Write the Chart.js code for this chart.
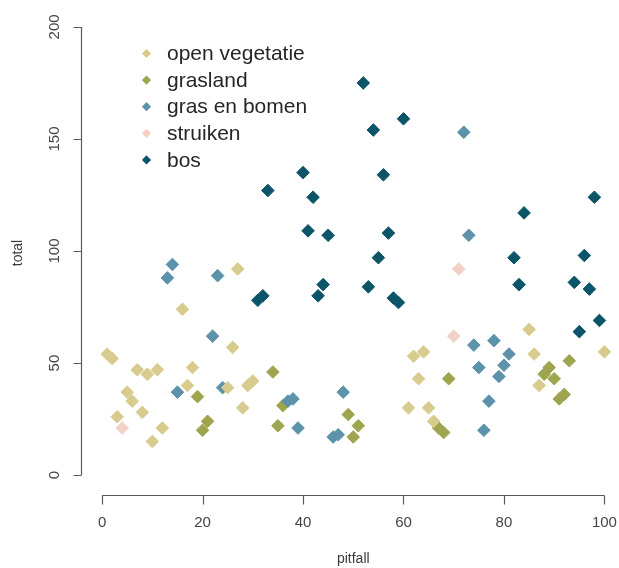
<!DOCTYPE html>
<html>
<head>
<meta charset="utf-8">
<script src="https://cdn.jsdelivr.net/npm/chart.js@4/dist/chart.umd.min.js"></script>
<style>
  html, body { margin: 0; padding: 0; background: #ffffff; overflow: hidden; }
  canvas { display: block; }
</style>
</head>
<body>
<canvas id="c" width="619" height="568" style="width:619px;height:568px"></canvas>
<script>
// Pitfall catches per vegetation type: x = pitfall number, y = total catch
const openVegX = [27, 16, 1, 2, 7, 9, 11, 18, 26, 17, 5, 6, 8, 3, 12, 10, 25, 29, 30, 28, 62, 64, 63, 61, 65, 66, 85, 86, 100, 87];
const openVegY = [92, 74, 54, 52, 47, 45, 47, 48, 57, 40, 37, 33, 28, 26, 21, 15, 39, 40, 42, 30, 53, 55, 43, 30, 30, 24, 65, 54, 55, 40];

const graslandX = [34, 19, 21, 20, 36, 35, 49, 51, 50, 69, 67, 68, 93, 89, 88, 90, 92, 91];
const graslandY = [46, 35, 24, 20, 31, 22, 27, 22, 17, 43, 21, 19, 51, 48, 45, 43, 36, 34];

const grasBomenX = [72, 73, 14, 13, 23, 22, 15, 24, 37, 38, 39, 48, 46, 47, 74, 78, 81, 75, 80, 79, 77, 76];
const grasBomenY = [153, 107, 94, 88, 89, 62, 37, 39, 33, 34, 21, 37, 17, 18, 58, 60, 54, 48, 49, 44, 33, 20];

const struikenX = [71, 70, 4];
const struikenY = [92, 62, 21];

const bosX = [52, 33, 54, 60, 40, 42, 41, 45, 56, 57, 55, 44, 43, 31, 32, 53, 58, 59, 84, 82, 83, 96, 94, 97, 98, 99, 95];
const bosY = [175, 127, 154, 159, 135, 124, 109, 107, 134, 108, 97, 85, 80, 78, 80, 84, 79, 77, 117, 97, 85, 98, 86, 83, 124, 69, 64];

const seriesNames = ['open vegetatie', 'grasland', 'gras en bomen', 'struiken', 'bos'];
const seriesColors = ['#d8cb8e', '#9ea54e', '#5c92aa', '#f3d0c6', '#0c5468'];

const xTicks = [0, 20, 40, 60, 80, 100];
const yTicks = [0, 50, 100, 150, 200];
const xTitle = 'pitfall';
const yTitle = 'total';

function pts(xs, ys) { return xs.map((v, i) => ({ x: v, y: ys[i] })); }

const seriesData = [
  pts(openVegX, openVegY),
  pts(graslandX, graslandY),
  pts(grasBomenX, grasBomenY),
  pts(struikenX, struikenY),
  pts(bosX, bosY)
];
// drawing order: lower number is painted on top
const drawOrder = [0, 2, 1, 3, 4];

const datasets = seriesNames.map((name, i) => ({
  label: name,
  data: seriesData[i],
  order: drawOrder[i],
  pointStyle: 'rectRot',
  pointRadius: 6.3,
  pointHoverRadius: 6.3,
  pointBorderWidth: 1,
  backgroundColor: seriesColors[i],
  borderColor: seriesColors[i],
  showLine: false
}));

const FONT = '"Liberation Sans", Arial, sans-serif';

// Base-graphics style axes (offset from the panel) and legend box
const rStyle = {
  id: 'rStyle',
  afterDatasetsDraw(chart) {
    const { ctx, chartArea, scales: { x, y } } = chart;
    ctx.save();
    ctx.strokeStyle = '#5a5a5a';
    ctx.lineWidth = 1.2;

    // x axis
    const xa = Math.round(chartArea.bottom + 2) + 0.5;
    ctx.beginPath();
    ctx.moveTo(x.getPixelForValue(xTicks[0]), xa);
    ctx.lineTo(x.getPixelForValue(xTicks[xTicks.length - 1]), xa);
    xTicks.forEach(t => {
      const px = Math.round(x.getPixelForValue(t)) + 0.5;
      ctx.moveTo(px, xa);
      ctx.lineTo(px, xa + 9);
    });
    ctx.stroke();

    // y axis
    const ya = Math.round(chartArea.left - 1) + 0.5;
    ctx.beginPath();
    ctx.moveTo(ya, y.getPixelForValue(yTicks[0]));
    ctx.lineTo(ya, y.getPixelForValue(yTicks[yTicks.length - 1]));
    yTicks.forEach(t => {
      const py = Math.round(y.getPixelForValue(t)) + 0.5;
      ctx.moveTo(ya, py);
      ctx.lineTo(ya - 8, py);
    });
    ctx.stroke();

    // tick labels
    ctx.fillStyle = '#454545';
    ctx.font = '15px ' + FONT;
    ctx.textAlign = 'center';
    ctx.textBaseline = 'middle';
    xTicks.forEach(t => ctx.fillText(String(t), x.getPixelForValue(t), 523));
    yTicks.forEach(t => {
      ctx.save();
      ctx.translate(55, y.getPixelForValue(t));
      ctx.rotate(-Math.PI / 2);
      ctx.fillText(String(t), 0, 0);
      ctx.restore();
    });

    // axis titles
    ctx.fillStyle = '#3a3a3a';
    ctx.font = '14px ' + FONT;
    ctx.fillText(xTitle, (x.getPixelForValue(xTicks[0]) + x.getPixelForValue(xTicks[xTicks.length - 1])) / 2, 559);
    ctx.save();
    ctx.translate(18, (y.getPixelForValue(yTicks[0]) + y.getPixelForValue(yTicks[yTicks.length - 1])) / 2 + 2);
    ctx.rotate(-Math.PI / 2);
    ctx.fillText(yTitle, 0, 0);
    ctx.restore();

    // legend
    ctx.font = '21px ' + FONT;
    ctx.textAlign = 'left';
    seriesNames.forEach((name, i) => {
      const cy = 53.5 + i * 26.6;
      const cx = 146.5;
      const r = 4.6;
      ctx.fillStyle = seriesColors[i];
      ctx.beginPath();
      ctx.moveTo(cx - r, cy);
      ctx.lineTo(cx, cy - r);
      ctx.lineTo(cx + r, cy);
      ctx.lineTo(cx, cy + r);
      ctx.closePath();
      ctx.fill();
      ctx.fillStyle = '#262626';
      ctx.fillText(name, 167, cy + 1);
    });
    ctx.restore();
  }
};

new Chart(document.getElementById('c'), {
  type: 'scatter',
  data: { datasets },
  options: {
    responsive: false,
    maintainAspectRatio: false,
    devicePixelRatio: 1,
    animation: false,
    events: [],
    layout: { autoPadding: false, padding: { left: 82, right: 0, top: 9, bottom: 75 } },
    plugins: { legend: { display: false }, tooltip: { enabled: false } },
    scales: {
      x: { type: 'linear', min: -4, max: 102.9, display: false },
      y: { type: 'linear', min: -8, max: 208, display: false }
    }
  },
  plugins: [rStyle]
});
</script>
</body>
</html>
